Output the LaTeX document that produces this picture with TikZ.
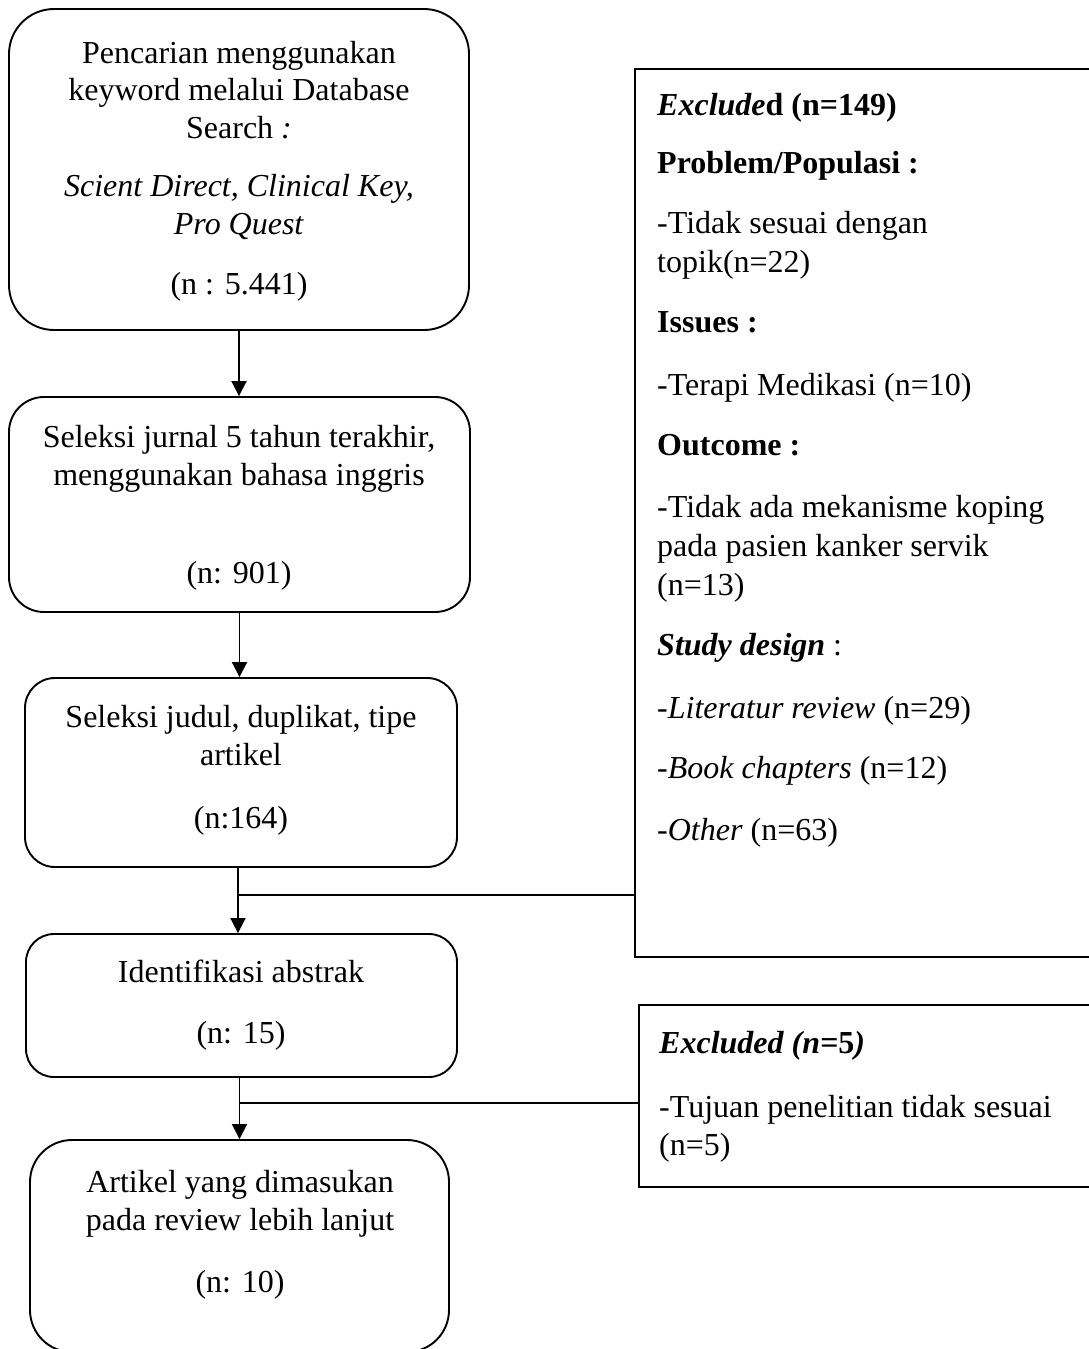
\documentclass[tikz,border=0pt]{standalone}
\usepackage{fontspec}
\setmainfont{Liberation Serif}
\usetikzlibrary{arrows.meta}
\tikzset{
  rbox/.style={draw, line width=1.9pt, inner sep=0pt, rounded corners=#1},
  sbox/.style={draw, line width=1.9pt, inner sep=0pt},
  ctxt/.style={anchor=mid, inner sep=0pt, yshift=-8pt, font=\fontsize{32}{38}\selectfont},
  ltxt/.style={anchor=mid west, inner sep=0pt, yshift=-8pt, font=\fontsize{32}{38}\selectfont},
  arr/.style={line width=1.9pt, -{Triangle[length=15pt,width=15pt]}},
  conn/.style={line width=1.9pt}
}
\begin{document}
\begin{tikzpicture}[x=1pt,y=-1pt]
\useasboundingbox (0,0) rectangle (1089,1349);
\clip (0,0) rectangle (1089,1349);
% boxes
\node[rbox=45pt, minimum width=460pt, minimum height=321pt] (b1) at (239,169.5) {};
\node[rbox=35pt, minimum width=461pt, minimum height=215pt] (b2) at (239.5,504.5) {};
\node[rbox=30pt, minimum width=432pt, minimum height=189pt] (b3) at (241,772.5) {};
\node[rbox=28pt, minimum width=431pt, minimum height=143pt] (b4) at (241.5,1005.5) {};
\node[rbox=42pt, minimum width=419pt, minimum height=212pt] (b5) at (239.5,1246) {};
\node[sbox, minimum width=465pt, minimum height=888pt] (ex1) at (867.5,513) {};
\node[sbox, minimum width=461pt, minimum height=182pt] (ex2) at (869.5,1096) {};
% box 1 text
\node[ctxt] (t1a) at (239,53) {Pencarian menggunakan};
\node[ctxt] (t1b) at (239,90) {keyword melalui Database};
\node[ctxt] (t1c) at (239,128) {Search \textit{:}};
\node[ctxt] (t1d) at (239,186) {\textit{Scient Direct, Clinical Key,}};
\node[ctxt] (t1e) at (239,224) {\textit{Pro Quest}};
\node[ctxt] (t1f) at (239,284) {(n : 5.441)};
% box 2 text
\node[ctxt] (t2a) at (239,437) {Seleksi jurnal 5 tahun terakhir,};
\node[ctxt] (t2b) at (239,475) {menggunakan bahasa inggris};
\node[ctxt] (t2c) at (239,573) {(n: 901)};
% box 3 text
\node[ctxt] (t3a) at (241,717) {Seleksi judul, duplikat, tipe};
\node[ctxt] (t3b) at (241,755) {artikel};
\node[ctxt] (t3c) at (241,818) {(n:164)};
% box 4 text
\node[ctxt] (t4a) at (241,972) {Identifikasi abstrak};
\node[ctxt] (t4b) at (241,1033) {(n: 15)};
% box 5 text
\node[ctxt] (t5a) at (240,1182) {Artikel yang dimasukan};
\node[ctxt] (t5b) at (240,1220) {pada review lebih lanjut};
\node[ctxt] (t5c) at (240,1282) {(n: 10)};
% excluded 1 text
\node[ltxt] (e1a) at (657,105) {\textbf{\textit{Exclude}d (n=149)}};
\node[ltxt] (e1b) at (657,163) {\textbf{Problem/Populasi :}};
\node[ltxt] (e1c) at (657,223) {-Tidak sesuai dengan};
\node[ltxt] (e1d) at (657,262) {topik(n=22)};
\node[ltxt] (e1e) at (657,322) {\textbf{Issues :}};
\node[ltxt] (e1f) at (657,385) {-Terapi Medikasi (n=10)};
\node[ltxt] (e1g) at (657,445) {\textbf{Outcome :}};
\node[ltxt] (e1h) at (657,507) {-Tidak ada mekanisme koping};
\node[ltxt] (e1i) at (657,546) {pada pasien kanker servik};
\node[ltxt] (e1j) at (657,585) {(n=13)};
\node[ltxt] (e1k) at (657,645) {\textbf{\textit{Study design}} :};
\node[ltxt] (e1l) at (657,708) {-\textit{Literatur review} (n=29)};
\node[ltxt] (e1m) at (657,768) {-\textit{Book chapters} (n=12)};
\node[ltxt] (e1n) at (657,830) {-\textit{Other} (n=63)};
% excluded 2 text
\node[ltxt] (e2a) at (659,1043) {\textbf{\textit{Excluded (n=}5\textit{)}}};
\node[ltxt] (e2b) at (659,1107) {-Tujuan penelitian tidak sesuai};
\node[ltxt] (e2c) at (659,1145) {(n=5)};
% connectors
\draw[arr] (b1.south) -- (b1.south |- b2.north);
\draw[arr] (b2.south) -- (b2.south |- b3.north);
\draw[arr] ([xshift=-3pt]b3.south) -- ([xshift=-3pt]b3.south |- b4.north);
\draw[arr] ([xshift=-2pt]b4.south) -- ([xshift=-2pt]b4.south |- b5.north);
\coordinate (j1) at ([xshift=-3pt]b3.south |- 0,895);
\coordinate (j2) at ([xshift=-2pt]b4.south |- 0,1103);
\draw[conn] (j1) -- (j1 -| ex1.west);
\draw[conn] (j2) -- (j2 -| ex2.west);
\end{tikzpicture}
\end{document}
